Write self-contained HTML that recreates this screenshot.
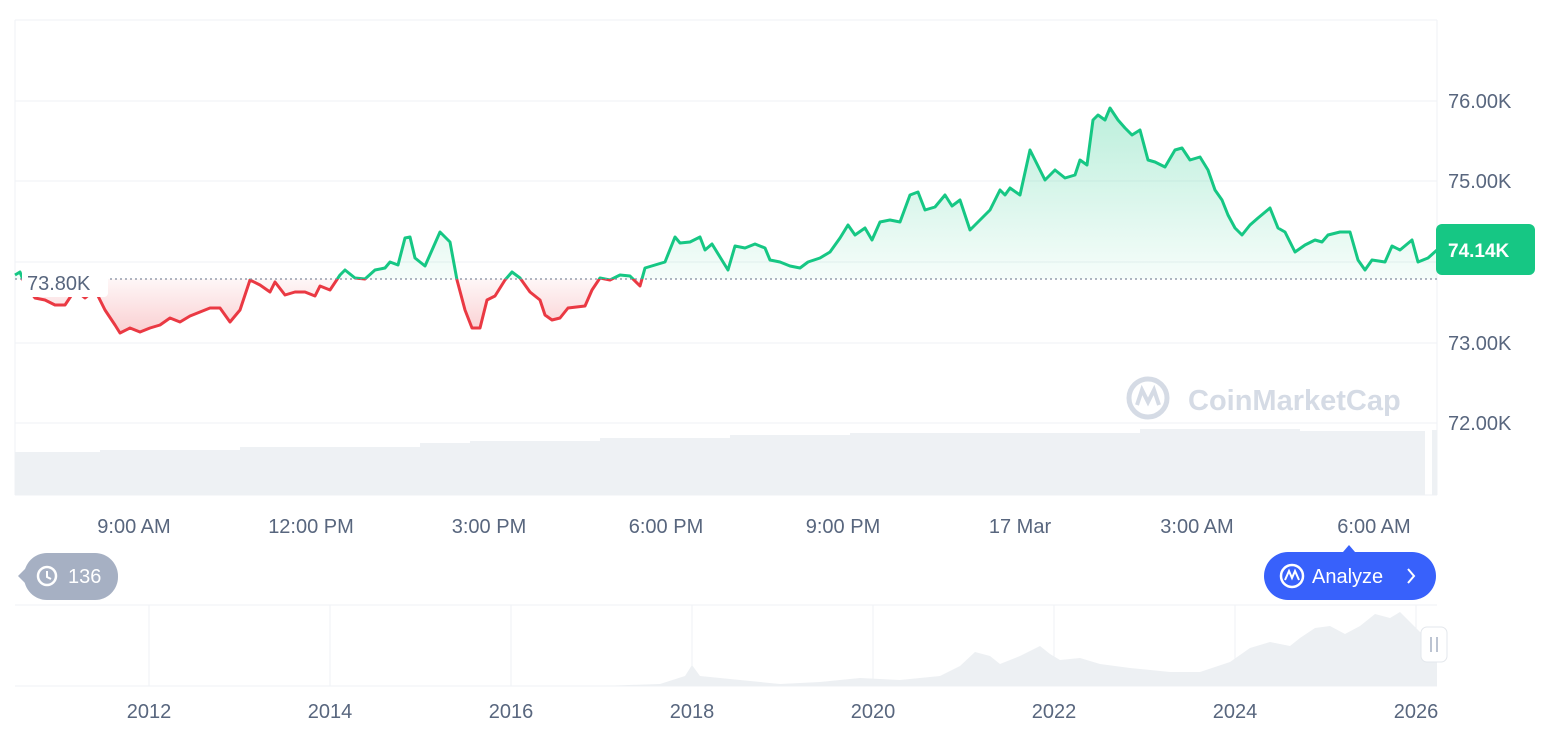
<!DOCTYPE html>
<html><head><meta charset="utf-8"><style>
body{margin:0;background:#fff;width:1566px;height:732px;overflow:hidden;font-family:"Liberation Sans",sans-serif}
svg{position:absolute;left:0;top:0}
</style></head><body>
<svg width="1566" height="732" viewBox="0 0 1566 732" xmlns="http://www.w3.org/2000/svg">
<defs>
<linearGradient id="gg" x1="0" y1="100" x2="0" y2="279" gradientUnits="userSpaceOnUse"><stop offset="0" stop-color="#16c784" stop-opacity="0.3"/><stop offset="1" stop-color="#16c784" stop-opacity="0.04"/></linearGradient>
<linearGradient id="rg" x1="0" y1="279" x2="0" y2="335" gradientUnits="userSpaceOnUse"><stop offset="0" stop-color="#ea3943" stop-opacity="0.04"/><stop offset="1" stop-color="#ea3943" stop-opacity="0.25"/></linearGradient>
<clipPath id="up"><rect x="0" y="0" width="1566" height="279"/></clipPath>
<clipPath id="dn"><rect x="0" y="279" width="1566" height="200"/></clipPath>
<polygon id="ar" points="15,279 15,275 20,272 25,285 35,298 45,300 55,305 65,305 75,290 85,298 95,290 105,310 115,325 120,333 130,328 140,332 150,328 160,325 170,318 180,322 190,316 200,312 210,308 220,308 230,322 240,310 250,280 260,285 270,292 275,282 285,295 295,292 305,292 315,296 320,286 330,290 340,275 345,270 355,278 365,279 375,270 385,268 390,262 398,265 405,238 410,237 415,258 425,266 440,232 450,242 457,280 465,310 472,328 480,328 487,300 495,296 505,280 512,272 520,278 530,292 540,300 545,315 552,320 560,318 568,308 585,306 592,290 600,278 610,280 620,275 630,276 640,286 645,268 655,265 665,262 675,237 680,243 690,242 700,237 705,250 712,244 720,257 728,270 735,246 745,248 755,244 765,248 770,260 780,262 790,266 800,268 808,262 820,258 830,252 840,238 848,225 855,235 865,228 872,240 880,222 890,220 900,222 910,195 918,192 925,210 935,207 945,195 952,206 960,200 970,230 980,220 990,210 1000,190 1005,195 1010,188 1020,195 1030,150 1040,170 1045,180 1055,170 1065,178 1075,175 1080,160 1087,165 1093,120 1098,115 1105,120 1110,108 1118,120 1125,128 1132,135 1140,130 1148,160 1155,162 1165,167 1175,150 1182,148 1190,160 1200,157 1208,170 1215,190 1222,200 1228,215 1235,228 1242,235 1250,225 1258,218 1270,208 1278,228 1285,232 1295,252 1305,245 1315,240 1322,242 1328,235 1340,232 1350,232 1358,260 1365,270 1372,260 1385,262 1392,246 1400,250 1412,240 1418,262 1428,258 1437,250 1437,279"/>
<polyline id="ln" fill="none" stroke-width="3" stroke-linejoin="round" points="15,275 20,272 25,285 35,298 45,300 55,305 65,305 75,290 85,298 95,290 105,310 115,325 120,333 130,328 140,332 150,328 160,325 170,318 180,322 190,316 200,312 210,308 220,308 230,322 240,310 250,280 260,285 270,292 275,282 285,295 295,292 305,292 315,296 320,286 330,290 340,275 345,270 355,278 365,279 375,270 385,268 390,262 398,265 405,238 410,237 415,258 425,266 440,232 450,242 457,280 465,310 472,328 480,328 487,300 495,296 505,280 512,272 520,278 530,292 540,300 545,315 552,320 560,318 568,308 585,306 592,290 600,278 610,280 620,275 630,276 640,286 645,268 655,265 665,262 675,237 680,243 690,242 700,237 705,250 712,244 720,257 728,270 735,246 745,248 755,244 765,248 770,260 780,262 790,266 800,268 808,262 820,258 830,252 840,238 848,225 855,235 865,228 872,240 880,222 890,220 900,222 910,195 918,192 925,210 935,207 945,195 952,206 960,200 970,230 980,220 990,210 1000,190 1005,195 1010,188 1020,195 1030,150 1040,170 1045,180 1055,170 1065,178 1075,175 1080,160 1087,165 1093,120 1098,115 1105,120 1110,108 1118,120 1125,128 1132,135 1140,130 1148,160 1155,162 1165,167 1175,150 1182,148 1190,160 1200,157 1208,170 1215,190 1222,200 1228,215 1235,228 1242,235 1250,225 1258,218 1270,208 1278,228 1285,232 1295,252 1305,245 1315,240 1322,242 1328,235 1340,232 1350,232 1358,260 1365,270 1372,260 1385,262 1392,246 1400,250 1412,240 1418,262 1428,258 1437,250"/>
</defs>
<g stroke="#eff2f5" stroke-width="1">
<line x1="15" y1="20" x2="1437" y2="20"/><line x1="15" y1="101" x2="1437" y2="101"/><line x1="15" y1="181" x2="1437" y2="181"/><line x1="15" y1="262" x2="1437" y2="262"/><line x1="15" y1="343" x2="1437" y2="343"/><line x1="15" y1="423" x2="1437" y2="423"/>
<line x1="15" y1="20" x2="15" y2="495"/><line x1="1437" y1="20" x2="1437" y2="495"/><line x1="15" y1="495" x2="1437" y2="495"/>
</g>
<polygon fill="#eef1f4" points="15,452 100,452 100,450 240,450 240,447 420,447 420,443 470,443 470,441 600,441 600,438 730,438 730,435 850,435 850,433 1140,433 1140,429 1300,429 1300,431 1425,431 1425,495 15,495"/>
<rect x="1432" y="430" width="5" height="65" fill="#eef1f4"/>
<text x="1188" y="410" font-size="29" font-weight="bold" fill="#d5dbe5">CoinMarketCap</text>
<circle cx="1148" cy="398" r="19" fill="none" stroke="#d5dbe5" stroke-width="5"/>
<path d="M1137,405 L1142,390 L1148,402 L1154,390 L1159,405" fill="none" stroke="#d5dbe5" stroke-width="4"/>
<use href="#ar" fill="url(#gg)" clip-path="url(#up)"/>
<use href="#ar" fill="url(#rg)" clip-path="url(#dn)"/>
<use href="#ln" stroke="#16c784" clip-path="url(#up)"/>
<use href="#ln" stroke="#ea3943" clip-path="url(#dn)"/>
<line x1="15" y1="279" x2="1437" y2="279" stroke="#808a9d" stroke-width="1.3" stroke-dasharray="2,3"/>
<rect x="22" y="269" width="86" height="28" rx="4" fill="#fff"/>
<text x="27" y="290" font-size="20" fill="#58667e">73.80K</text>
<g font-size="20" fill="#58667e">
<text x="1448" y="108">76.00K</text><text x="1448" y="188">75.00K</text><text x="1448" y="350">73.00K</text><text x="1448" y="430">72.00K</text>
</g>
<rect x="1436" y="224" width="99" height="51" rx="6" fill="#16c784"/>
<text x="1448" y="257" font-size="19" fill="#fff" font-weight="bold">74.14K</text>
<g font-size="20" fill="#58667e" text-anchor="middle">
<text x="134" y="533">9:00 AM</text><text x="311" y="533">12:00 PM</text><text x="489" y="533">3:00 PM</text><text x="666" y="533">6:00 PM</text><text x="843" y="533">9:00 PM</text><text x="1020" y="533">17 Mar</text><text x="1197" y="533">3:00 AM</text><text x="1374" y="533">6:00 AM</text>
</g>
<path d="M1343,552 L1349,545 L1355,552Z" fill="#3861fb"/>
<rect x="1264" y="552" width="172" height="48" rx="24" fill="#3861fb"/>
<circle cx="1292" cy="576" r="11" fill="none" stroke="#fff" stroke-width="2.5"/>
<path d="M1285,580 L1289,571 L1292,578 L1295,571 L1299,580" fill="none" stroke="#fff" stroke-width="2"/>
<text x="1312" y="583" font-size="20" fill="#fff">Analyze</text>
<path d="M1408,569 L1414,576 L1408,583" fill="none" stroke="#fff" stroke-width="2"/>
<path d="M18,576 L28,566 L28,586Z" fill="#a6b0c3"/>
<rect x="24" y="553" width="94" height="47" rx="23" fill="#a6b0c3"/>
<circle cx="47" cy="576" r="9" fill="none" stroke="#fff" stroke-width="2.5"/>
<path d="M47,571 L47,577 L51,579" fill="none" stroke="#fff" stroke-width="2"/>
<text x="68" y="583" font-size="20" fill="#fff">136</text>
<g stroke="#eff2f5"><line x1="15" y1="605" x2="1437" y2="605"/><line x1="15" y1="686" x2="1437" y2="686"/>
<line x1="149" y1="605" x2="149" y2="686"/><line x1="330" y1="605" x2="330" y2="686"/><line x1="511" y1="605" x2="511" y2="686"/><line x1="692" y1="605" x2="692" y2="686"/><line x1="873" y1="605" x2="873" y2="686"/><line x1="1054" y1="605" x2="1054" y2="686"/><line x1="1235" y1="605" x2="1235" y2="686"/><line x1="1416" y1="605" x2="1416" y2="686"/></g>
<polygon fill="#edf0f3" points="15,686 600,686 660,684 685,676 692,665 700,676 740,680 780,684 820,682 860,678 900,680 940,676 960,666 975,652 990,656 1000,664 1020,656 1040,646 1050,654 1060,660 1080,658 1100,664 1130,668 1170,672 1200,672 1230,662 1250,648 1270,642 1290,646 1300,638 1315,628 1330,626 1345,634 1360,626 1375,614 1390,618 1400,612 1410,622 1420,632 1437,634 1437,686"/>
<rect x="1421" y="627" width="26" height="35" rx="6" fill="#fff" stroke="#e3e7ec"/>
<line x1="1431" y1="637" x2="1431" y2="652" stroke="#a6b0c3" stroke-width="1.5"/><line x1="1437" y1="637" x2="1437" y2="652" stroke="#a6b0c3" stroke-width="1.5"/>
<g font-size="20" fill="#58667e" text-anchor="middle">
<text x="149" y="718">2012</text><text x="330" y="718">2014</text><text x="511" y="718">2016</text><text x="692" y="718">2018</text><text x="873" y="718">2020</text><text x="1054" y="718">2022</text><text x="1235" y="718">2024</text><text x="1416" y="718">2026</text>
</g>
</svg>
</body></html>
